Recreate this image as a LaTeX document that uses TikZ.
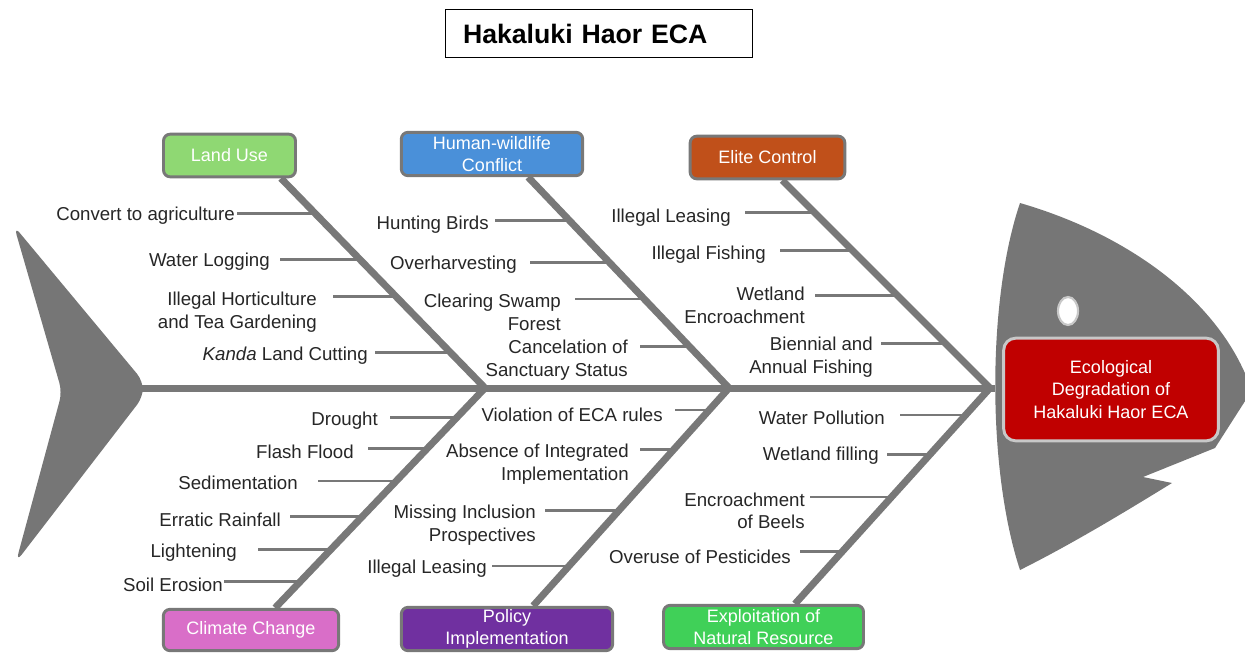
\documentclass[tikz,border=0pt]{standalone}
\usepackage{fontspec}
\setmainfont{Liberation Sans}
\usetikzlibrary{calc}

\definecolor{bonegray}{RGB}{120,120,120}
\definecolor{fishgray}{RGB}{118,118,118}
\definecolor{txtdark}{RGB}{38,38,38}
\definecolor{landuse}{HTML}{8FD873}
\definecolor{humanwild}{HTML}{4A90D9}
\definecolor{elite}{HTML}{C0501A}
\definecolor{climate}{HTML}{D96EC8}
\definecolor{policy}{HTML}{7030A0}
\definecolor{exploit}{HTML}{40D058}
\definecolor{effectred}{HTML}{C00000}
\definecolor{rimgray}{RGB}{200,200,200}

\begin{document}
\begin{tikzpicture}[x=0.75pt,y=-0.75pt,
  bone/.style={draw=bonegray,line width=5.25pt},
  twig/.style={draw=bonegray,line width=2.2pt},
  lbl/.style={font=\fontsize{14}{17}\selectfont,text=txtdark,inner sep=0pt,align=right,
    anchor=east,yshift=-1.8pt},
  cat/.style={draw=bonegray,line width=2.2pt,rounded corners=5pt,text=white,
    font=\fontsize{13.5}{16.5}\selectfont,align=center,inner sep=0pt},
]
\useasboundingbox (0,0) rectangle (1245,653);

% title
\node[draw=black,line width=1.1pt,inner xsep=13pt,inner ysep=0pt,text width=204pt,
  minimum height=36pt,align=left,font=\fontsize{20}{24}\selectfont\bfseries]
  (title) at (599,33.5) {Hakaluki Haor ECA};

% tail fin
\fill[fishgray,rounded corners=7pt] (14,226) -- (143,381) -- (143,397) -- (16,562)
  -- (62,392) -- cycle;

% head
\fill[fishgray] (1020,203) .. controls (1130,235) and (1215,300) .. (1247,378)
  -- (1247,398) -- (1215,448) -- (1143,477) -- (1172,483)
  .. controls (1120,515) and (1070,545) .. (1020,570)
  .. controls (987,470) and (987,300) .. (1020,203) -- cycle;
\draw[draw=rimgray,fill=white,line width=1.6pt] (1068,311) ellipse [x radius=10, y radius=14];

% effect
\node[draw=rimgray,fill=effectred,line width=2.2pt,rounded corners=9pt,text=white,
  minimum width=161pt,minimum height=77pt,align=center,inner sep=0pt,
  font=\fontsize{13.5}{17}\selectfont]
  (effect) at (1111,389.5) {Ecological\\Degradation of\\Hakaluki Haor ECA};

% spine
\coordinate (tailjoint) at (140,388);
\coordinate (headjoint) at (995,388);
\coordinate (s1) at (485,388);
\coordinate (s2) at (729,388);
\coordinate (s3) at (990,388);
\draw[bone] (tailjoint) -- (headjoint);

% category boxes
\node[cat,fill=landuse,minimum width=99pt,minimum height=32pt] (LU) at (229.5,155.5) {Land Use};
\node[cat,fill=humanwild,minimum width=136pt,minimum height=32.5pt] (HW) at (492,154) {Human-wildlife\\Conflict};
\node[cat,fill=elite,minimum width=116pt,minimum height=32pt] (EC) at (767.5,157.5) {Elite Control};
\node[cat,fill=climate,minimum width=131.5pt,minimum height=31pt] (CC) at (251,630) {Climate Change};
\node[cat,fill=policy,minimum width=158.5pt,minimum height=32.5pt] (PI) at (507,629) {Policy\\Implementation};
\node[cat,fill=exploit,minimum width=150pt,minimum height=32.5pt] (EX) at (763.5,627) {Exploitation of\\Natural Resource};

% main bones
\coordinate (luA) at ($(LU.south east)+(-16,0)$);
\coordinate (hwA) at ($(HW.south east)+(-56,0)$);
\coordinate (ecA) at ($(EC.south east)+(-64,0)$);
\coordinate (ccA) at ($(CC.north east)+(-65,0)$);
\coordinate (piA) at ($(PI.north east)+(-81,0)$);
\coordinate (exA) at ($(EX.north east)+(-70,0)$);
\draw[bone] (luA) -- (s1);
\draw[bone] (hwA) -- (s2);
\draw[bone] (ecA) -- (s3);
\draw[bone] (ccA) -- (s1);
\draw[bone] (piA) -- (s2);
\draw[bone] (exA) -- (s3);

% Land Use causes
\coordinate (lu1) at ($(luA)!0.167!(s1)$);
\coordinate (lu2) at ($(luA)!0.386!(s1)$);
\coordinate (lu3) at ($(luA)!0.562!(s1)$);
\coordinate (lu4) at ($(luA)!0.829!(s1)$);
\node[lbl] (tlu1) at (235,213) {Convert to agriculture};
\node[lbl] (tlu2) at (270,259) {Water Logging};
\node[lbl] (tlu3) at (317,309.5) {Illegal Horticulture\\and Tea Gardening};
\node[lbl] (tlu4) at (368,353) {\textit{Kanda} Land Cutting};
\draw[twig] (lu1) -- ($(lu1 -| tlu1.east)+(2,0)$);
\draw[twig] (lu2) -- ($(lu2 -| tlu2.east)+(10,0)$);
\draw[twig] (lu3) -- ($(lu3 -| tlu3.east)+(16,0)$);
\draw[twig] (lu4) -- ($(lu4 -| tlu4.east)+(7,0)$);

% Human-wildlife conflict causes
\coordinate (hw1) at ($(hwA)!0.204!(s2)$);
\coordinate (hw2) at ($(hwA)!0.403!(s2)$);
\coordinate (hw3) at ($(hwA)!0.578!(s2)$);
\coordinate (hw4) at ($(hwA)!0.801!(s2)$);
\node[lbl] (thw1) at (489,222) {Hunting Birds};
\node[lbl] (thw2) at (517,262) {Overharvesting};
\node[lbl] (thw3) at (561,310) {Clearing Swamp\\Forest};
\node[lbl] (thw4) at (628,358) {Cancelation of\\Sanctuary Status};
\draw[twig] (hw1) -- ($(hw1 -| thw1.east)+(6,0)$);
\draw[twig] (hw2) -- ($(hw2 -| thw2.east)+(13,0)$);
\draw[twig] (hw3) -- ($(hw3 -| thw3.east)+(14,0)$);
\draw[twig] (hw4) -- ($(hw4 -| thw4.east)+(12,0)$);

% Elite control causes
\coordinate (ec1) at ($(ecA)!0.154!(s3)$);
\coordinate (ec2) at ($(ecA)!0.337!(s3)$);
\coordinate (ec3) at ($(ecA)!0.553!(s3)$);
\coordinate (ec4) at ($(ecA)!0.784!(s3)$);
\node[lbl] (tec1) at (731,215) {Illegal Leasing};
\node[lbl] (tec2) at (766,252) {Illegal Fishing};
\node[lbl] (tec3) at (805,303) {Wetland\\Encroachment};
\node[lbl] (tec4) at (873,354.5) {Biennial and\\Annual Fishing};
\draw[twig] (ec1) -- ($(ec1 -| tec1.east)+(14,0)$);
\draw[twig] (ec2) -- ($(ec2 -| tec2.east)+(14,0)$);
\draw[twig] (ec3) -- ($(ec3 -| tec3.east)+(10,0)$);
\draw[twig] (ec4) -- ($(ec4 -| tec4.east)+(8,0)$);

% Climate change causes
\coordinate (cc1) at ($(s1)!0.136!(ccA)$);
\coordinate (cc2) at ($(s1)!0.277!(ccA)$);
\coordinate (cc3) at ($(s1)!0.423!(ccA)$);
\coordinate (cc4) at ($(s1)!0.586!(ccA)$);
\coordinate (cc5) at ($(s1)!0.736!(ccA)$);
\coordinate (cc6) at ($(s1)!0.882!(ccA)$);
\node[lbl] (tcc1) at (378,418) {Drought};
\node[lbl] (tcc2) at (354,449) {Flash Flood};
\node[lbl] (tcc3) at (298,480) {Sedimentation};
\node[lbl] (tcc4) at (281,517) {Erratic Rainfall};
\node[lbl] (tcc5) at (237,550) {Lightening};
\node[lbl] (tcc6) at (223,582) {Soil Erosion};
\draw[twig] (cc1) -- ($(cc1 -| tcc1.east)+(12,0)$);
\draw[twig] (cc2) -- ($(cc2 -| tcc2.east)+(14,0)$);
\draw[twig] (cc3) -- ($(cc3 -| tcc3.east)+(20,0)$);
\draw[twig] (cc4) -- ($(cc4 -| tcc4.east)+(9,0)$);
\draw[twig] (cc5) -- ($(cc5 -| tcc5.east)+(21,0)$);
\draw[twig] (cc6) -- ($(cc6 -| tcc6.east)+(1,0)$);

% Policy implementation causes
\coordinate (pi1) at ($(s2)!0.101!(piA)$);
\coordinate (pi2) at ($(s2)!0.284!(piA)$);
\coordinate (pi3) at ($(s2)!0.564!(piA)$);
\coordinate (pi4) at ($(s2)!0.817!(piA)$);
\node[lbl] (tpi1) at (663,412) {Violation of ECA rules};
\node[lbl] (tpi2) at (629,461.5) {Absence of Integrated\\Implementation};
\node[lbl] (tpi3) at (536,522.5) {Missing Inclusion\\Prospectives};
\node[lbl] (tpi4) at (487,566) {Illegal Leasing};
\draw[twig] (pi1) -- ($(pi1 -| tpi1.east)+(12,0)$);
\draw[twig] (pi2) -- ($(pi2 -| tpi2.east)+(11,0)$);
\draw[twig] (pi3) -- ($(pi3 -| tpi3.east)+(9,0)$);
\draw[twig] (pi4) -- ($(pi4 -| tpi4.east)+(5,0)$);

% Exploitation of natural resource causes
\coordinate (ex1) at ($(s3)!0.125!(exA)$);
\coordinate (ex2) at ($(s3)!0.310!(exA)$);
\coordinate (ex3) at ($(s3)!0.505!(exA)$);
\coordinate (ex4) at ($(s3)!0.759!(exA)$);
\node[lbl] (tex1) at (885,415) {Water Pollution};
\node[lbl] (tex2) at (879,453) {Wetland filling};
\node[lbl] (tex3) at (805,508.5) {Encroachment\\of Beels};
\node[lbl] (tex4) at (791,554) {Overuse of Pesticides};
\draw[twig] (ex1) -- ($(ex1 -| tex1.east)+(15,0)$);
\draw[twig] (ex2) -- ($(ex2 -| tex2.east)+(8,0)$);
\draw[twig] (ex3) -- ($(ex3 -| tex3.east)+(5,0)$);
\draw[twig] (ex4) -- ($(ex4 -| tex4.east)+(9,0)$);
\end{tikzpicture}
\end{document}
